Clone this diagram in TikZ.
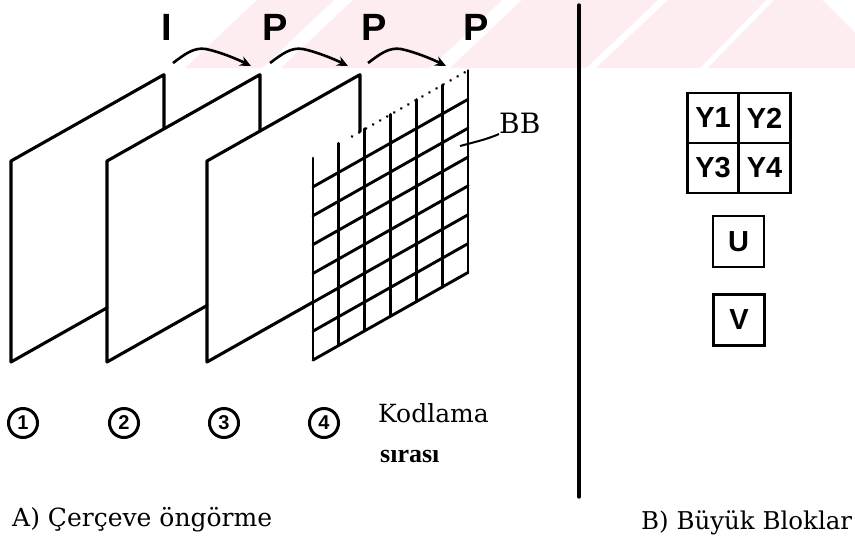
\documentclass[tikz,border=0pt]{standalone}
\usepackage{fontspec}
\setmainfont{DejaVu Serif}
\newfontfamily\lbsans{Liberation Sans}
\newfontfamily\lbserif{Liberation Serif}
\usetikzlibrary{arrows.meta}

\definecolor{wmpink}{RGB}{253,236,240}

\tikzset{
  edge/.style={line width=3.1pt, line join=round, line cap=round},
  gridline/.style={line width=2.9pt, line cap=round},
  hop/.style={line width=2.6pt, -{Stealth[length=11pt,width=10pt]}},
  frametag/.style={font=\lbsans\bfseries\fontsize{38}{38}\selectfont, anchor=base, inner sep=0pt},
  order/.style={circle, draw, line width=3pt, minimum size=29pt, inner sep=0pt,
                font=\lbsans\bfseries\fontsize{20}{20}\selectfont},
  caption/.style={font=\fontsize{25}{25}\selectfont, anchor=base west, inner sep=0pt},
  cell/.style={draw, line width=2.9pt, rectangle, inner sep=0pt,
               minimum width=51.5pt, minimum height=50pt,
               font=\lbsans\bfseries\fontsize{29}{29}\selectfont},
}

\begin{document}
\begin{tikzpicture}[x=1pt, y=-1pt]
\useasboundingbox (0,0) rectangle (855,542);
\fill[white] (0,0) rectangle (855,542);

% pale diagonal bands across the top strip
\begin{scope}
  \clip (0,0) rectangle (855,68);
  \fill[wmpink] (185,68) -- (257,0) -- (334,0) -- (262,68) -- cycle;
  \fill[wmpink] (281,68) -- (353,0) -- (502,0) -- (430,68) -- cycle;
  \fill[wmpink] (450,68) -- (522,0) -- (658,0) -- (586,68) -- cycle;
  \fill[wmpink] (596,68) -- (668,0) -- (766,0) -- (700,68) -- cycle;
  \fill[wmpink] (708,68) -- (774,0) -- (822,0) -- (855,33) -- (855,68) -- cycle;
\end{scope}

% frame type labels
\node[frametag] (lI)  at (167,40) {I};
\node[frametag] (lP1) at (275,40) {P};
\node[frametag] (lP2) at (374,40) {P};
\node[frametag] (lP3) at (476,40) {P};

% prediction hops between consecutive frames
\foreach \sx/\nm in {173/a, 270/b, 368/c}{
  \coordinate (\nm s) at (\sx,63);
  \coordinate (\nm e) at (\sx+78,66);
  \draw[hop] (\nm s) .. controls ++(12,-9) and ++(-12,-2) .. ++(33,-14)
             .. controls ++(14,3) and ++(-14,-7) .. (\nm e);
}

% frames 1-3 (stacked parallelograms)
\draw[edge] (107,307.8) -- (11,362) -- (11,161) -- (164,74.6) -- (164,128.8);
\draw[edge] (207,305.5) -- (107,362) -- (107,161) -- (260,74.6) -- (260,131.1);
\draw[edge] (313,302.1) -- (207,362) -- (207,161) -- (360,74.6) -- (360,131.5);

% frame 4 divided into big blocks
\foreach \i in {0,...,6}{
  \draw[gridline] (313+\i*155/6, 158-\i*87.5/6) -- (313+\i*155/6, 360-\i*87.5/6);
}
\foreach \j in {1,...,7}{
  \draw[gridline] (313, 158+\j*202/7) -- (468, 158+\j*202/7-87.5);
}
\draw[line width=2.8pt, line cap=round, dash pattern=on 0.1pt off 8pt]
  (352,136.5) -- (468,70.5);

% block label with leader
\node[font=\fontsize{28}{28}\selectfont, anchor=base west, inner sep=0pt] (bb) at (499,133) {BB};
\coordinate (bbin) at (460,146);
\draw[line width=2pt] (bbin) .. controls (475,142) and (488,139) .. (bb.west |- 0,134);

% coding order
\node[order] (o1) at (23,423) {1};
\node[order] (o2) at (124,423) {2};
\node[order] (o3) at (224,423) {3};
\node[order] (o4) at (324,423) {4};
\node[caption] (kod) at (378,422) {Kodlama};
\node[font=\lbserif\bfseries\fontsize{26}{26}\selectfont, anchor=base west, inner sep=0pt] (sira) at (380,462) {sırası};

\node[caption] (capA) at (12,526) {A) Çerçeve öngörme};

% divider
\coordinate (d1) at (579,5);
\coordinate (d2) at (579,497);
\draw[line width=3.4pt, line cap=round] (d1) -- (d2);

% big blocks: luminance and chrominance
\node[cell] (y1) at (713,118) {Y1};
\node[cell] (y2) at (764.5,118) {Y2};
\node[cell] (y3) at (713,168) {Y3};
\node[cell] (y4) at (764.5,168) {Y4};
\node[cell, minimum width=51pt, minimum height=51pt] (u) at (738.5,241.5) {U};
\node[cell, minimum width=51pt, minimum height=51pt] (v) at (739,320) {V};

\node[font=\fontsize{24.5}{24.5}\selectfont, anchor=base west, inner sep=0pt] (capB) at (641,529) {B) Büyük Bloklar};
\end{tikzpicture}
\end{document}
